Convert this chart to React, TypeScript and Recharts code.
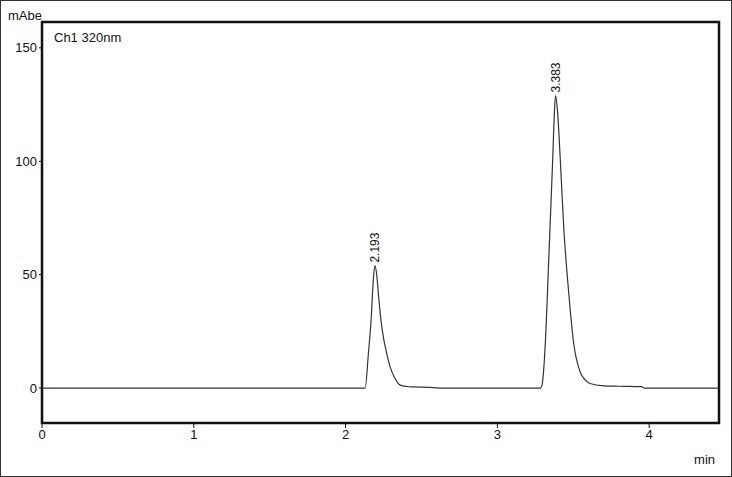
import {
  LineChart,
  Line,
  XAxis,
  YAxis,
  ReferenceArea,
  LabelList,
} from "recharts";

// retention time (min)
const times = [
  0, 2.1, 2.129, 2.15, 2.169, 2.182, 2.193, 2.205, 2.218, 2.233, 2.25, 2.272,
  2.295, 2.32, 2.36, 2.4, 2.45, 2.55, 2.62, 3.283, 3.294, 3.316, 3.338, 3.364,
  3.376, 3.383, 3.395, 3.415, 3.437, 3.47, 3.502, 3.546, 3.58, 3.61, 3.7, 3.8,
  3.95, 3.97, 4.46,
];
// absorbance (mAbe)
const absorbance = [
  0, 0, 0, 15, 31, 47, 54, 50, 40, 30, 22, 15, 9, 5, 1.3, 0.7, 0.5, 0.3, 0, 0,
  1.3, 20, 56, 100, 122, 129, 123, 100, 71, 42, 20, 7, 3.5, 2, 1, 0.8, 0.6, 0,
  0,
];
const peakTimes = [2.193, 3.383];
const peakLabels = ["2.193", "3.383"];

const xTicks = [0, 1, 2, 3, 4];
const yTicks = [0, 50, 100, 150];

const data = times.map((t, i) => {
  const p = peakTimes.indexOf(t);
  return { t, v: absorbance[i], peak: p >= 0 ? peakLabels[p] : "" };
});

const font = "'Liberation Sans', Arial, sans-serif";

const renderPeak = (props: any) => {
  const { x, y, value } = props;
  if (!value) return null;
  return (
    <text
      x={x}
      y={y}
      dx={3}
      dy={4}
      transform={`rotate(-90, ${x}, ${y})`}
      textAnchor="start"
      fontSize={12}
      fontFamily={font}
      fill="#111"
    >
      {value}
    </text>
  );
};

export default function App() {
  return (
    <div
      style={{
        position: "absolute",
        left: 0,
        top: 0,
        width: 732,
        height: 477,
        border: "1px solid #333",
        boxSizing: "border-box",
        background: "#fff",
        fontFamily: font,
      }}
    >
      <div
        style={{
          position: "absolute",
          left: 7,
          top: 7,
          fontSize: 13,
          color: "#111",
        }}
      >
        mAbe
      </div>
      <div
        style={{
          position: "absolute",
          left: 53,
          top: 29,
          fontSize: 13,
          color: "#111",
        }}
      >
        Ch1 320nm
      </div>
      <div style={{ position: "absolute", left: -1, top: -1 }}>
        <LineChart
          width={732}
          height={477}
          data={data}
          margin={{ top: 22, right: 13, left: 0, bottom: 9 }}
        >
          <XAxis
            dataKey="t"
            type="number"
            domain={[0, 4.46]}
            ticks={xTicks}
            allowDataOverflow
            axisLine={false}
            tickSize={5}
            tickLine={{ stroke: "#111" }}
            tick={{ fontSize: 13, fill: "#111", fontFamily: font }}
            height={45}
            label={{
              value: "min",
              position: "insideBottomRight",
              offset: 4,
              fontSize: 13,
              fill: "#111",
              fontFamily: font,
            }}
          />
          <YAxis
            type="number"
            domain={[-15.4, 161.4]}
            ticks={yTicks}
            allowDataOverflow
            axisLine={false}
            width={42}
            tickSize={3}
            tickLine={{ stroke: "#111" }}
            tick={{ fontSize: 13, fill: "#111", fontFamily: font }}
          />
          <ReferenceArea
            x1={0}
            x2={4.46}
            y1={-15.4}
            y2={161.4}
            fill="none"
            stroke="#111"
            strokeWidth={2.5}
            ifOverflow="visible"
          />
          <Line
            type="monotone"
            dataKey="v"
            stroke="#333"
            strokeWidth={1.2}
            dot={false}
            isAnimationActive={false}
          >
            <LabelList dataKey="peak" content={renderPeak} />
          </Line>
        </LineChart>
      </div>
    </div>
  );
}
